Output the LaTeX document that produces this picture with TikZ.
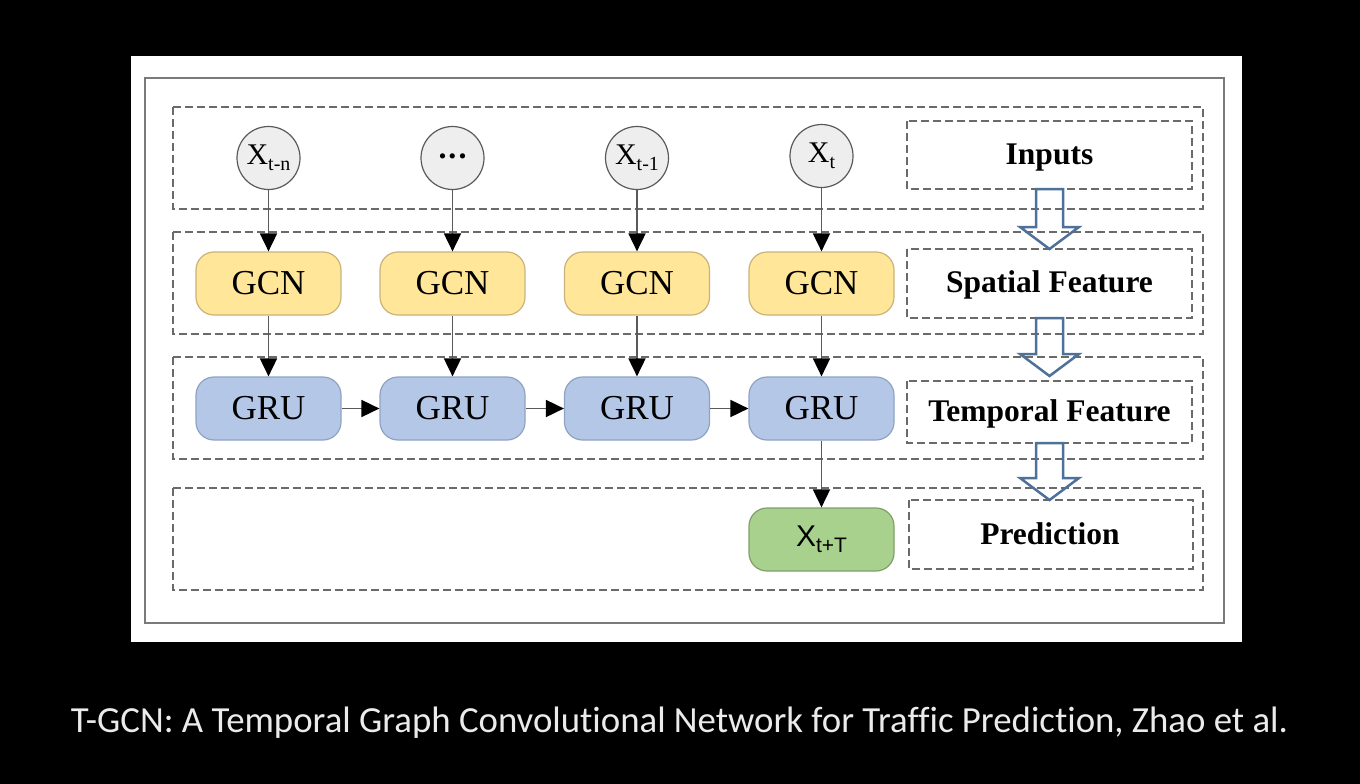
\documentclass[tikz,border=0pt]{standalone}
\usepackage{fontspec}
\setmainfont{Liberation Serif}
\newfontfamily\capfont[Ligatures=NoCommon]{Carlito}
\newfontfamily\sansfont{Liberation Sans}
\usetikzlibrary{arrows.meta}
\definecolor{gcnfill}{HTML}{FFE699}
\definecolor{gcnline}{HTML}{C9B37A}
\definecolor{grufill}{HTML}{B4C7E7}
\definecolor{gruline}{HTML}{8EA3C4}
\definecolor{predfill}{HTML}{A9D18E}
\definecolor{predline}{HTML}{7F9F6A}
\definecolor{circfill}{HTML}{EEEEEE}
\definecolor{circline}{HTML}{595959}
\definecolor{dashgray}{HTML}{6A6A6A}
\definecolor{linegray}{HTML}{5A5A5A}
\definecolor{framegray}{HTML}{7A7A7A}
\definecolor{arrowblue}{HTML}{4E7199}
\newcommand{\subtxt}[1]{\raisebox{-6pt}{\fontsize{20}{20}\selectfont #1}}
\begin{document}
\begin{tikzpicture}[x=1pt,y=-1pt,
  band/.style={draw=dashgray, line width=1.3pt, dash pattern=on 8pt off 4pt},
  circ/.style={circle, draw=circline, fill=circfill, line width=1.2pt, minimum size=63pt, inner sep=0pt, font=\fontsize{30}{32}\selectfont},
  blk/.style={rounded corners=18pt, line width=1.2pt, minimum width=145pt, minimum height=63pt, inner sep=0pt, font=\fontsize{35}{40}\selectfont},
  gcn/.style={blk, draw=gcnline, fill=gcnfill},
  gru/.style={blk, draw=gruline, fill=grufill},
  pred/.style={blk, draw=predline, fill=predfill, font=\sansfont\fontsize{30}{32}\selectfont},
  lbl/.style={font=\bfseries\fontsize{31.5}{34}\selectfont},
  conn/.style={draw=linegray, line width=1.8pt, -{Triangle[length=18pt,width=17pt,color=black]}},
  hollow/.style={draw=arrowblue, line width=2.5pt, line join=miter}
]
\useasboundingbox (0,0) rectangle (1360,784);
\fill[black] (0,0) rectangle (1360,784);
\fill[white] (131,56) rectangle (1242,642);
\draw[framegray, line width=1.5pt] (145,78) rectangle (1224,623);

% bands
\draw[band] (173,107) rectangle (1203,209);
\draw[band] (173,232) rectangle (1203,334);
\draw[band] (173,357) rectangle (1203,459);
\draw[band] (173,488) rectangle (1203,590);

% label boxes
\draw[band] (907,121) rectangle (1192,189);
\draw[band] (907,249) rectangle (1192,318);
\draw[band] (907,381) rectangle (1192,443);
\draw[band] (909,500) rectangle (1193,569);
\node[lbl] (linp) at (1049.5,158) {Inputs};
\node[lbl] (lspa) at (1049.5,285) {Spatial Feature};
\node[lbl] (ltem) at (1049.5,414) {Temporal Feature};
\node[lbl] (lpre) at (1050,534) {Prediction};

% hollow arrows
\foreach \t/\h/\p in {189/227/249, 318/354/376, 443/478/500}{
  \draw[hollow] (1036,\t) -- (1063,\t) -- (1063,\h) -- (1079,\h) -- (1049.5,\p) -- (1020,\h) -- (1036,\h) -- cycle;
}

% inputs
\node[circ] (x1) at (268.5,158) {X\subtxt{t-n}};
\node[circ] (x2) at (452.5,158) {\raisebox{4pt}{\bfseries\fontsize{32}{32}\selectfont .\kern2pt.\kern2pt.}};
\node[circ] (x3) at (637,158) {X\subtxt{t-1}};
\node[circ] (x4) at (821.5,156) {X\subtxt{t}};

% GCN
\node[gcn] (g1) at (268.5,283.5) {GCN};
\node[gcn] (g2) at (452.5,283.5) {GCN};
\node[gcn] (g3) at (637,283.5) {GCN};
\node[gcn] (g4) at (821.5,283.5) {GCN};

% GRU
\node[gru] (r1) at (268.5,408.5) {GRU};
\node[gru] (r2) at (452.5,408.5) {GRU};
\node[gru] (r3) at (637,408.5) {GRU};
\node[gru] (r4) at (821.5,408.5) {GRU};

% prediction
\node[pred] (p) at (821.5,539.5) {X\raisebox{-6pt}{\fontsize{21}{21}\selectfont t+T}};

% connectors
\foreach \i in {1,2,3,4}{
  \draw[conn] (x\i) -- (g\i);
  \draw[conn] (g\i) -- (r\i);
}
\draw[conn] (r1) -- (r2);
\draw[conn] (r2) -- (r3);
\draw[conn] (r3) -- (r4);
\draw[conn] (r4) -- (p);

% caption
\node[text=white!92!black, font=\capfont] (cap) at (679.5,723) {\resizebox{1217pt}{!}{T-GCN: A Temporal Graph Convolutional Network for Traffic Prediction, Zhao et al.}};
\end{tikzpicture}
\end{document}
